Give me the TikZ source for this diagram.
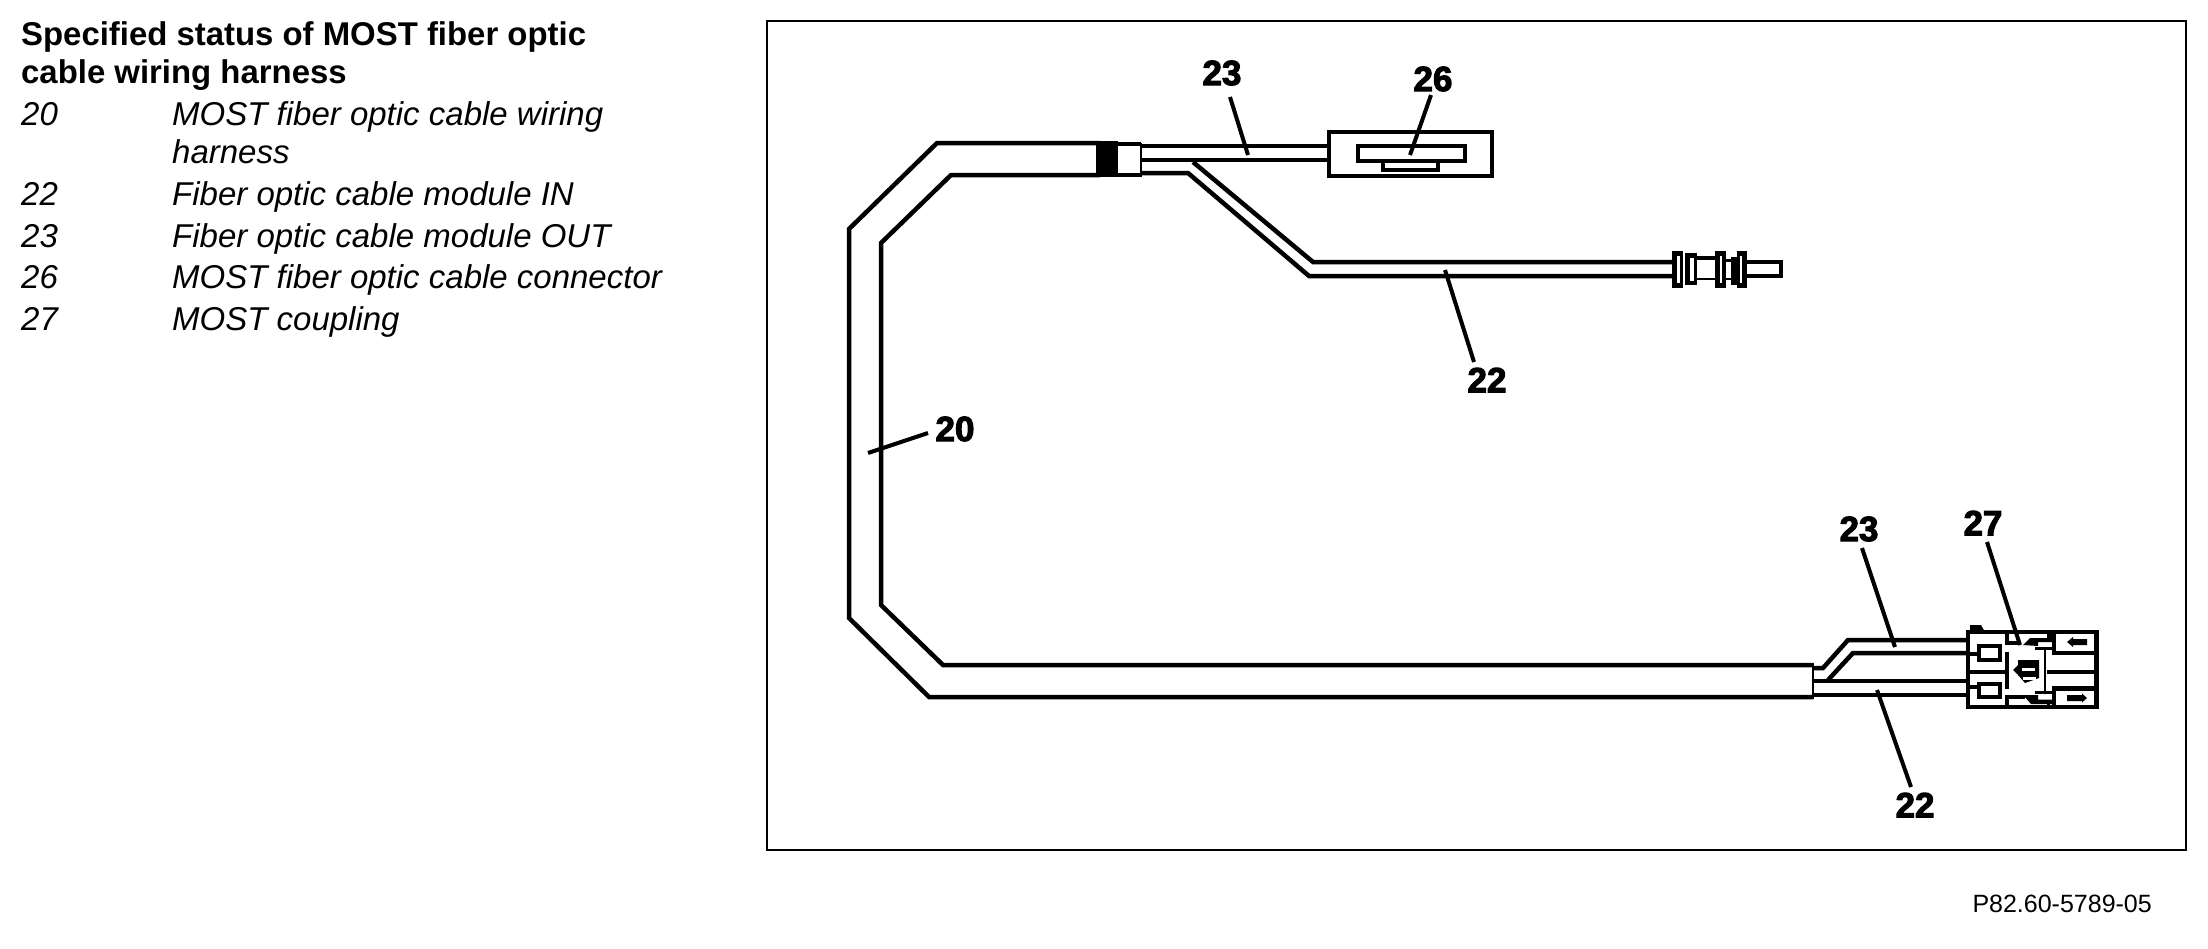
\documentclass[tikz,border=0pt]{standalone}
\usepackage{fontspec}
\setmainfont{Liberation Sans}
\newfontfamily\labfont[BoldFeatures={FakeBold=3}]{Liberation Sans}
\tikzset{
  x=1pt,y=-1pt,
  wire/.style={line width=4.5pt,line cap=butt,line join=miter,black},
  thinw/.style={line width=2.5pt,black},
  leader/.style={line width=4pt,black},
  num/.style={font=\labfont\bfseries\fontsize{35}{35}\selectfont,inner sep=0pt,anchor=center},
  legtitle/.style={font=\bfseries\fontsize{32.9}{38}\selectfont,inner sep=0pt,anchor=base west},
  leg/.style={font=\itshape\fontsize{33}{38}\selectfont,inner sep=0pt,anchor=base west},
  refno/.style={font=\fontsize{25}{30}\selectfont,inner sep=0pt,anchor=base east}
}
\begin{document}
\begin{tikzpicture}
\useasboundingbox (0,0) rectangle (2208,948);
\fill[white] (0,0) rectangle (2208,948);
% legend
\node[legtitle] (t1) at (21,45) {Specified status of MOST fiber optic};
\node[legtitle] (t2) at (21,83) {cable wiring harness};
\node[leg] (n20) at (21,125.5) {20};
\node[leg] (d20) at (172,125.5) {MOST fiber optic cable wiring};
\node[leg] (d20b) at (172,163.5) {harness};
\node[leg] (n22) at (21,205.5) {22};
\node[leg] (d22) at (172,205.5) {Fiber optic cable module IN};
\node[leg] (n23) at (21,247) {23};
\node[leg] (d23) at (172,247) {Fiber optic cable module OUT};
\node[leg] (n26) at (21,288.5) {26};
\node[leg] (d26) at (172,288.5) {MOST fiber optic cable connector};
\node[leg] (n27) at (21,330.5) {27};
\node[leg] (d27) at (172,330.5) {MOST coupling};
\node[refno] (ref) at (2152,912) {P82.60-5789-05};
% frame
\draw[line width=2pt] (767,21) rectangle (2186,850);
% main cable
\draw[wire] (1100,143) -- (937,143) -- (849,229) -- (849,618) -- (929,697) -- (1813,697);
\draw[wire] (1100,175) -- (951,175) -- (881,243) -- (881,605) -- (943,665) -- (1813,665);
\draw[thinw] (1813,663) -- (1813,699);
% sleeve
\fill[black] (1096,141) rectangle (1118,177);
\draw[wire] (1118,144) -- (1141,144);
\draw[wire] (1118,175) -- (1141,175);
\draw[thinw] (1141,143) -- (1141,177);
% branch 23 to connector 26
\draw[wire] (1141,146) -- (1329,146);
\draw[wire] (1141,160) -- (1329,160);
\draw[wire] (1329,132) rectangle (1492,176);
\draw[wire] (1358,146) rectangle (1465,161);
\draw[wire] (1383,161) rectangle (1438,170);
% branch 22
\draw[wire] (1141,173) -- (1188,173) -- (1309,276) -- (1673,276);
\draw[wire] (1193,162) -- (1313,262) -- (1673,262);
% plug on branch 22
\fill[black] (1672,251) rectangle (1683,288);
\fill[white] (1677,256) rectangle (1679.5,283);
\fill[black] (1685,253) rectangle (1697,285);
\fill[white] (1690,258) rectangle (1694,281);
\draw[line width=4pt] (1697,258) -- (1716,258);
\draw[line width=1.5pt] (1697,279) -- (1716,279);
\fill[black] (1715,251) rectangle (1726,288);
\fill[white] (1719.5,256) rectangle (1722,283);
\draw[line width=3pt] (1726,260) -- (1732,260);
\draw[line width=1.5pt] (1726,279) -- (1732,279);
\fill[black] (1731,257) rectangle (1738,285);
\fill[black] (1737,251) rectangle (1747,288);
\fill[white] (1739.5,256) rectangle (1742,283);
\draw[wire] (1747,262) -- (1781,262) -- (1781,276) -- (1747,276);
% lower branches
\draw[wire] (1813,668) -- (1823,668) -- (1848,640) -- (1967,640);
\draw[wire] (1828,680) -- (1853,653) -- (1967,653);
\draw[wire] (1813,681) -- (1967,681);
\draw[wire] (1813,695) -- (1967,695);
% coupling 27
\draw[wire] (1968,632) -- (2096.5,632) -- (2096.5,707) -- (1968,707) -- cycle;
\fill[black] (1970,632) -- (1970,625) -- (1981,625) -- (1985,632) -- cycle;
\draw[wire] (1967,672) -- (2007,672);
\draw[wire] (2047,672) -- (2098,672);
\draw[line width=4pt] (1979,646) rectangle (2000,660);
\draw[line width=4pt] (1979,684) rectangle (2000,697);
\draw[wire] (1967,654) -- (1979,654);
\draw[wire] (1967,687) -- (1979,687);
\draw[wire] (2007,652) -- (2007,689);
% upper notch
\draw[wire] (2007,632) -- (2007,643) -- (2018,643);
\fill[black] (2023,645) -- (2030,638) -- (2047,638) -- (2047,632) -- (2053,632) -- (2053,642) -- (2038,642) -- (2038,646) -- cycle;
\draw[line width=3pt] (2035,648) -- (2053,648);
\draw[wire] (2054,632) -- (2054,653);
\draw[wire] (2052,653) -- (2098,653);
\draw[line width=2pt] (2045,648) -- (2045,692);
\fill[black] (2067,642) -- (2073,637) -- (2073,639) -- (2087,639) -- (2087,645) -- (2073,645) -- (2073,647) -- cycle;
% centre blob
\fill[black] (2018,660) -- (2039,660) -- (2039,678) -- (2025,683) -- (2018,675) -- (2013,670) -- (2018,665) -- cycle;
\fill[white] (2022,668) rectangle (2035,671);
\fill[white] (2023,677) rectangle (2036,679.5);
% lower notch
\draw[wire] (2007,708) -- (2007,697) -- (2025,697);
\fill[black] (2023,695) -- (2038,695) -- (2038,699.5) -- (2053,699.5) -- (2053,704) -- (2031,704) -- cycle;
\draw[line width=3pt] (2035,692.5) -- (2054,692.5);
\draw[wire] (2054,688) -- (2054,708);
\draw[line width=3pt] (2048,702) -- (2048,708);
\draw[wire] (2052,688.5) -- (2095,688.5);
\fill[black] (2067,695) -- (2082,695) -- (2082,693.5) -- (2087,698) -- (2082,702.5) -- (2082,701) -- (2067,701) -- cycle;
% number labels
\node[num] (l23a) at (1222,73) {23};
\node[num] (l26)  at (1433,79) {26};
\node[num] (l22a) at (1487,380) {22};
\node[num] (l20)  at (955,429) {20};
\node[num] (l23b) at (1859,529) {23};
\node[num] (l27)  at (1983,523) {27};
\node[num] (l22b) at (1915,805) {22};
% leaders
\coordinate (s23a) at (1230,97);  \coordinate (a23a) at (1248,155);
\coordinate (s26)  at (1431,95);  \coordinate (a26)  at (1410,155);
\coordinate (s22a) at (1474,362); \coordinate (a22a) at (1445,270);
\coordinate (s20)  at (928,433);  \coordinate (a20)  at (868,453);
\coordinate (s23b) at (1862,548); \coordinate (a23b) at (1895,647);
\coordinate (s27)  at (1987,542); \coordinate (a27)  at (2020,645);
\coordinate (s22b) at (1911,787); \coordinate (a22b) at (1877,690);
\draw[leader] (s23a) -- (a23a);
\draw[leader] (s26) -- (a26);
\draw[leader] (s22a) -- (a22a);
\draw[leader] (s20) -- (a20);
\draw[leader] (s23b) -- (a23b);
\draw[leader] (s27) -- (a27);
\draw[leader] (s22b) -- (a22b);
\end{tikzpicture}
\end{document}
